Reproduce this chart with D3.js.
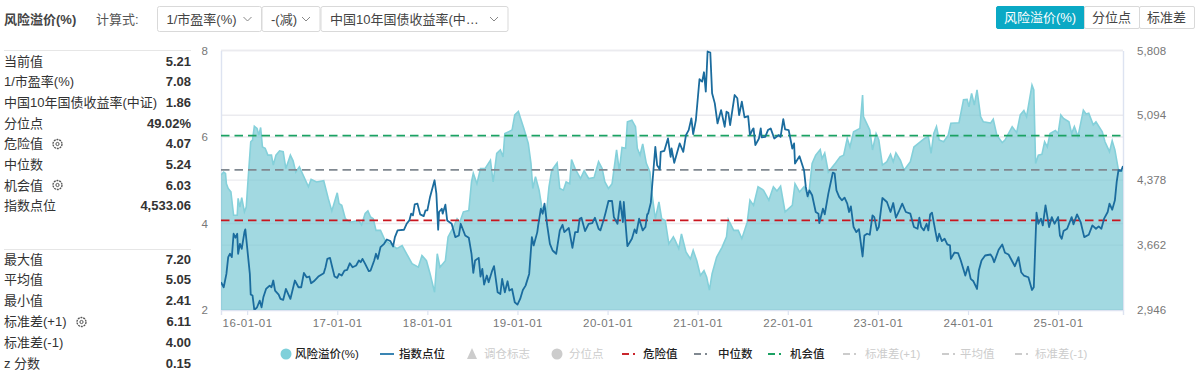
<!DOCTYPE html>
<html>
<head>
<meta charset="utf-8">
<script src="https://cdn.jsdelivr.net/npm/d3@7"></script>
<style>
  html, body { margin: 0; padding: 0; background: #fff; }
  svg { display: block; }
  text { font-family: "Liberation Sans", "Noto Sans CJK SC", sans-serif; }
</style>
</head>
<body>
<div id="chart"></div>
<script>
// Data (dates as decimal years)
const premiumDates = [2015.71,2015.74,2015.76,2015.77,2015.79,2015.82,2015.85,2015.89,2015.90,2015.92,2015.94,2015.97,2015.99,2016.01,2016.04,2016.06,2016.08,2016.11,2016.13,2016.15,2016.17,2016.20,2016.23,2016.27,2016.29,2016.32,2016.36,2016.40,2016.43,2016.48,2016.51,2016.54,2016.58,2016.63,2016.68,2016.71,2016.77,2016.85,2016.90,2016.94,2017.00,2017.02,2017.05,2017.09,2017.14,2017.24,2017.27,2017.31,2017.34,2017.37,2017.40,2017.43,2017.48,2017.53,2017.62,2017.66,2017.72,2017.77,2017.83,2017.90,2017.94,2017.99,2018.03,2018.08,2018.11,2018.14,2018.20,2018.23,2018.29,2018.33,2018.36,2018.40,2018.46,2018.49,2018.51,2018.55,2018.59,2018.64,2018.70,2018.73,2018.77,2018.81,2018.84,2018.86,2018.94,2018.97,2019.01,2019.07,2019.12,2019.15,2019.17,2019.20,2019.24,2019.27,2019.32,2019.35,2019.38,2019.44,2019.47,2019.51,2019.54,2019.58,2019.60,2019.64,2019.70,2019.74,2019.79,2019.85,2019.90,2019.94,2019.97,2020.01,2020.05,2020.10,2020.13,2020.16,2020.20,2020.22,2020.27,2020.31,2020.33,2020.36,2020.39,2020.43,2020.47,2020.49,2020.53,2020.57,2020.60,2020.64,2020.68,2020.73,2020.75,2020.79,2020.82,2020.87,2020.92,2020.95,2020.99,2021.03,2021.07,2021.10,2021.13,2021.16,2021.21,2021.27,2021.32,2021.34,2021.40,2021.45,2021.49,2021.55,2021.58,2021.62,2021.67,2021.73,2021.79,2021.84,2021.88,2021.92,2021.97,2022.05,2022.08,2022.13,2022.18,2022.23,2022.27,2022.31,2022.36,2022.38,2022.41,2022.45,2022.53,2022.58,2022.62,2022.66,2022.69,2022.73,2022.80,2022.83,2022.84,2022.91,2022.94,2022.98,2023.01,2023.05,2023.10,2023.14,2023.17,2023.20,2023.25,2023.29,2023.36,2023.40,2023.47,2023.52,2023.56,2023.59,2023.62,2023.65,2023.68,2023.73,2023.78,2023.81,2023.90,2023.95,2023.99,2024.01,2024.04,2024.07,2024.10,2024.14,2024.17,2024.25,2024.28,2024.32,2024.38,2024.41,2024.49,2024.54,2024.58,2024.62,2024.65,2024.71,2024.73,2024.75,2024.78,2024.82,2024.85,2024.88,2024.91,2024.97,2025.00,2025.03,2025.06,2025.12,2025.15,2025.18,2025.22,2025.28,2025.31,2025.34,2025.39,2025.42,2025.49,2025.52,2025.57,2025.60,2025.63,2025.67,2025.72];
const premiumValues = [5.12,5.19,5.16,4.92,4.81,4.73,4.19,4.19,4.58,4.38,4.60,4.27,4.38,5.00,5.89,5.93,6.25,6.20,6.04,6.22,5.77,5.74,5.58,5.58,5.35,5.58,5.68,5.66,5.27,5.58,5.45,5.19,5.31,5.08,4.85,5.02,4.96,4.99,4.58,4.29,4.71,4.46,4.42,4.11,4.03,4.07,3.97,4.23,4.29,4.15,4.11,3.84,3.84,3.61,3.49,3.42,3.49,3.30,3.07,2.99,3.26,3.14,2.84,2.41,3.30,2.99,3.14,3.69,3.92,4.11,4.03,4.27,4.30,4.96,5.16,4.92,5.27,5.27,5.46,4.96,5.62,5.70,5.54,6.08,6.16,6.51,6.59,6.20,5.85,5.39,4.81,5.08,4.77,4.38,4.23,4.85,5.23,5.40,4.81,4.77,4.96,4.92,5.48,5.27,5.04,5.22,5.04,5.06,5.43,5.27,4.96,4.81,4.92,5.70,5.22,5.76,5.74,6.35,6.39,6.24,5.74,5.58,5.84,5.39,5.19,4.73,4.11,4.50,4.11,4.07,3.53,3.69,3.61,3.42,3.76,3.34,3.18,3.38,3.14,2.80,2.91,2.76,2.46,2.84,3.22,3.45,3.69,4.09,3.84,3.84,3.65,4.03,4.54,4.42,4.85,4.77,4.54,4.85,4.75,4.86,4.27,4.42,4.92,4.73,4.85,4.61,5.39,5.58,5.71,5.50,5.63,5.19,5.40,5.54,5.58,5.97,5.77,6.12,6.20,6.97,6.47,6.16,5.70,6.08,5.93,5.35,5.43,5.60,5.43,5.63,5.46,5.23,5.43,5.77,5.89,5.97,6.01,5.62,6.08,6.24,5.93,5.89,6.04,6.32,6.33,6.86,6.87,6.70,7.01,6.74,7.09,6.47,6.35,6.32,6.41,6.04,5.87,5.93,6.24,6.10,6.51,6.61,6.47,7.20,7.09,5.39,5.58,5.60,5.89,5.77,6.08,6.15,6.08,6.51,6.43,6.35,6.08,6.24,6.01,6.62,6.53,6.55,6.28,6.35,6.12,5.89,5.66,5.91,5.70,5.23,5.21];
const indexDates = [2015.71,2015.74,2015.77,2015.79,2015.81,2015.83,2015.85,2015.87,2015.89,2015.90,2015.92,2015.94,2015.97,2015.98,2016.00,2016.03,2016.04,2016.06,2016.08,2016.11,2016.14,2016.16,2016.18,2016.21,2016.25,2016.27,2016.29,2016.31,2016.35,2016.37,2016.40,2016.43,2016.48,2016.53,2016.57,2016.60,2016.63,2016.66,2016.69,2016.71,2016.74,2016.79,2016.85,2016.87,2016.89,2016.92,2016.94,2016.97,2017.00,2017.02,2017.05,2017.08,2017.11,2017.14,2017.17,2017.21,2017.24,2017.26,2017.28,2017.31,2017.35,2017.37,2017.41,2017.43,2017.45,2017.48,2017.52,2017.55,2017.59,2017.62,2017.64,2017.67,2017.74,2017.77,2017.80,2017.82,2017.84,2017.86,2017.89,2017.92,2017.96,2017.98,2018.00,2018.03,2018.08,2018.10,2018.12,2018.13,2018.16,2018.17,2018.20,2018.22,2018.27,2018.31,2018.35,2018.37,2018.42,2018.46,2018.49,2018.51,2018.53,2018.57,2018.59,2018.61,2018.63,2018.66,2018.68,2018.72,2018.74,2018.78,2018.81,2018.83,2018.86,2018.89,2018.91,2018.94,2018.97,2019.00,2019.03,2019.06,2019.09,2019.13,2019.16,2019.18,2019.22,2019.23,2019.26,2019.28,2019.30,2019.33,2019.36,2019.39,2019.43,2019.47,2019.50,2019.52,2019.57,2019.61,2019.64,2019.67,2019.69,2019.71,2019.75,2019.79,2019.83,2019.86,2019.90,2019.92,2019.96,2019.98,2020.01,2020.05,2020.07,2020.11,2020.14,2020.17,2020.18,2020.22,2020.27,2020.30,2020.32,2020.35,2020.39,2020.42,2020.44,2020.45,2020.48,2020.50,2020.53,2020.55,2020.58,2020.59,2020.63,2020.67,2020.70,2020.71,2020.74,2020.80,2020.84,2020.87,2020.90,2020.93,2020.95,2020.98,2021.02,2021.05,2021.07,2021.09,2021.11,2021.14,2021.16,2021.19,2021.22,2021.26,2021.30,2021.32,2021.34,2021.36,2021.41,2021.44,2021.46,2021.49,2021.52,2021.56,2021.58,2021.61,2021.62,2021.64,2021.68,2021.70,2021.71,2021.75,2021.78,2021.81,2021.85,2021.90,2021.92,2021.95,2021.97,2022.01,2022.05,2022.07,2022.08,2022.13,2022.18,2022.20,2022.22,2022.24,2022.27,2022.31,2022.34,2022.35,2022.39,2022.41,2022.45,2022.50,2022.52,2022.54,2022.57,2022.60,2022.63,2022.66,2022.68,2022.70,2022.73,2022.76,2022.79,2022.83,2022.85,2022.88,2022.91,2022.94,2022.96,2022.99,2023.01,2023.05,2023.10,2023.14,2023.17,2023.20,2023.23,2023.27,2023.31,2023.36,2023.40,2023.44,2023.46,2023.48,2023.51,2023.54,2023.56,2023.58,2023.60,2023.64,2023.66,2023.68,2023.71,2023.74,2023.77,2023.80,2023.81,2023.85,2023.89,2023.92,2023.97,2024.00,2024.03,2024.06,2024.10,2024.12,2024.15,2024.19,2024.25,2024.27,2024.29,2024.34,2024.38,2024.41,2024.45,2024.52,2024.56,2024.59,2024.62,2024.67,2024.71,2024.73,2024.76,2024.78,2024.81,2024.83,2024.86,2024.90,2024.93,2024.96,2025.00,2025.02,2025.04,2025.06,2025.10,2025.15,2025.17,2025.21,2025.25,2025.29,2025.34,2025.38,2025.42,2025.45,2025.48,2025.51,2025.55,2025.57,2025.60,2025.63,2025.65,2025.67,2025.70,2025.72];
const indexValues = [3252,3197,3344,3529,3566,3529,3787,3743,3787,3566,3676,3621,3805,3835,3639,3344,3116,3105,2946,2976,3049,2976,3086,3178,3215,3197,3271,3160,3116,3068,3057,3178,3068,3271,3197,3197,3355,3307,3315,3241,3263,3315,3352,3418,3510,3521,3437,3315,3300,3344,3326,3381,3389,3462,3418,3437,3492,3473,3510,3455,3374,3381,3492,3566,3510,3639,3676,3724,3706,3647,3750,3824,3831,3897,3934,4008,3990,4111,4119,4001,3982,4045,4045,4193,4377,4229,3831,4027,4063,4008,4108,3934,3897,3750,3768,3897,3768,3743,3566,3355,3492,3521,3315,3400,3226,3326,3252,3381,3429,3141,3123,3289,3141,3263,3160,3178,3031,3005,3068,3167,3215,3344,3750,3658,3805,3879,4063,4008,4119,3879,3676,3602,3566,3824,3886,3805,3850,3632,3805,3805,3953,3964,3816,3897,3905,3964,3842,3824,3953,4027,4148,4148,3971,3897,4145,3916,4137,3650,3732,3835,3794,3953,3824,3861,4001,4008,4130,4377,4746,4543,4495,4690,4701,4838,4635,4727,4569,4783,4690,4875,4930,5059,4886,5041,5491,5465,5568,5354,5797,5786,5336,5225,5004,5151,4967,5133,5122,4985,5317,5281,5096,5244,5070,5085,4875,4938,4949,4764,4838,4949,4849,4856,4930,4949,4838,4875,4856,5052,4938,4930,4727,4783,4561,4642,4488,4303,4200,4266,4211,4027,4008,3905,4063,4001,4229,4462,4451,4266,4193,4156,4185,4119,4027,4089,3861,3805,3838,3536,3768,3787,3776,3990,3971,3824,3861,4181,4137,4027,4126,3964,4027,4119,4027,4008,3861,3842,3964,3861,3824,3897,3824,4001,4019,3805,3706,3787,3706,3732,3669,3658,3510,3580,3573,3492,3326,3425,3289,3263,3178,3381,3492,3547,3558,3529,3473,3610,3669,3577,3558,3429,3529,3363,3326,3307,3167,3197,4019,3897,3953,3879,4100,3861,3971,3897,3971,3768,3732,3816,3842,3971,3890,4001,3916,3750,3776,3879,3842,3868,3842,3953,4027,4119,4052,4156,4359,4488,4480,4533];

const dangerValue = 4.07;
const medianValue = 5.24;
const chanceValue = 6.03;

const leftTicks = [2, 4, 6, 8];
const rightTicks = [2946, 3662, 4378, 5094, 5808];
const xTicks = [2016, 2017, 2018, 2019, 2020, 2021, 2022, 2023, 2024, 2025];

const statsTop = [["当前值", "5.21"], ["1/市盈率(%)", "7.08"], ["中国10年国债收益率(中证)", "1.86"], ["分位点", "49.02%"], ["危险值", "4.07"], ["中位数", "5.24"], ["机会值", "6.03"], ["指数点位", "4,533.06"]];
const statsBottom = [["最大值", "7.20"], ["平均值", "5.05"], ["最小值", "2.41"], ["标准差(+1)", "6.11"], ["标准差(-1)", "4.00"], ["z 分数", "0.15"]];

// Set Dimensions
const width = 1200, height = 370;
const margin = { top: 50.5, right: 77, bottom: 60, left: 221 };
const plotW = width - margin.left - margin.right;
const plotH = height - margin.top - margin.bottom;

const svg = d3.select("#chart").append("svg")
  .attr("width", width).attr("height", height);

const x = d3.scaleLinear().domain([2015.71, 2025.72]).range([margin.left, width - margin.right]);
const y = d3.scaleLinear().domain([2, 8]).range([height - margin.bottom, margin.top]);
const yIndex = d3.scaleLinear().domain([2946, 5808]).range([height - margin.bottom, margin.top]);

// Grid
const grid = svg.append("g").attr("stroke", "#ebebef").attr("stroke-width", 1.4);
leftTicks.forEach(t => grid.append("line").attr("x1", margin.left).attr("x2", margin.left + plotW).attr("y1", y(t)).attr("y2", y(t)));
rightTicks.forEach(t => grid.append("line").attr("x1", margin.left).attr("x2", margin.left + plotW).attr("y1", yIndex(t)).attr("y2", yIndex(t)));

// Axes
const xAxis = svg.append("g")
  .attr("transform", "translate(0," + (height - margin.bottom) + ")")
  .call(d3.axisBottom(x).tickValues(xTicks).tickSize(5).tickPadding(4)
    .tickFormat(d => String(d).slice(2) + "-01-01"));
const leftAxis = svg.append("g")
  .attr("transform", "translate(" + margin.left + ",0)")
  .call(d3.axisLeft(y).tickValues(leftTicks).tickSize(0).tickPadding(13).tickFormat(d3.format("d")));
const rightAxis = svg.append("g")
  .attr("transform", "translate(" + (width - margin.right) + ",0)")
  .call(d3.axisRight(yIndex).tickValues(rightTicks).tickSize(0).tickPadding(14).tickFormat(d3.format(",")));
[xAxis, leftAxis, rightAxis].forEach(a => {
  a.selectAll(".domain").attr("stroke", "#dde3f1").attr("stroke-width", 1.4);
  a.selectAll(".tick line").attr("stroke", "#dde3f1").attr("stroke-width", 1.2);
  a.selectAll("text").attr("fill", "#777").attr("font-size", 11.5)
    .style("font-family", '"Liberation Sans", sans-serif');
});
xAxis.selectAll("text").attr("letter-spacing", 0.5);
rightAxis.selectAll("text").attr("letter-spacing", 0.1);

// Clip
svg.append("clipPath").attr("id", "plotClip").append("rect")
  .attr("x", margin.left).attr("y", margin.top - 1).attr("width", plotW).attr("height", plotH + 1);
const plot = svg.append("g").attr("clip-path", "url(#plotClip)");

// Premium area + line
const premium = premiumDates.map((d, i) => [d, premiumValues[i]]);
plot.append("path").datum(premium)
  .attr("fill", "rgba(109,196,208,0.64)")
  .attr("d", d3.area().x(d => x(d[0])).y0(y(2)).y1(d => y(d[1])));
plot.append("path").datum(premium)
  .attr("fill", "none").attr("stroke", "#84d0da").attr("stroke-width", 1.6)
  .attr("d", d3.line().x(d => x(d[0])).y(d => y(d[1])));

// Reference lines
const refLines = [[dangerValue, "#c9151e"], [medianValue, "#808890"], [chanceValue, "#1ba263"]];
refLines.forEach(r => {
  plot.append("line")
    .attr("x1", margin.left).attr("x2", margin.left + plotW)
    .attr("y1", y(r[0])).attr("y2", y(r[0]))
    .attr("stroke", r[1]).attr("stroke-width", 1.8).attr("stroke-dasharray", "8.5,5");
});

// Index line
const indexPts = indexDates.map((d, i) => [d, indexValues[i]]);
plot.append("path").datum(indexPts)
  .attr("fill", "none").attr("stroke", "#1b6c9e").attr("stroke-width", 1.8)
  .attr("stroke-linejoin", "round")
  .attr("d", d3.line().x(d => x(d[0])).y(d => yIndex(d[1])));

// Left panel
const panel = svg.append("g");
function statRows(rows, startY, step) {
  rows.forEach((r, i) => {
    const yy = startY + i * step;
    panel.append("text").attr("x", 4).attr("y", yy + 4.5).attr("font-size", 13).attr("fill", "#333").text(r[0]);
    panel.append("text").attr("x", 191).attr("y", yy + 4.5).attr("font-size", 13).attr("font-weight", "bold")
      .attr("text-anchor", "end").attr("fill", "#333").text(r[1]);
  });
}
statRows(statsTop, 61, 20.7);
statRows(statsBottom, 259, 20.8);
panel.append("line").attr("x1", 4).attr("x2", 191).attr("y1", 50.5).attr("y2", 50.5).attr("stroke", "#e6e6e6");
panel.append("line").attr("x1", 4).attr("x2", 191).attr("y1", 249.5).attr("y2", 249.5).attr("stroke", "#e6e6e6");

function gear(cx, cy) {
  panel.append("circle").attr("cx", cx).attr("cy", cy).attr("r", 4.5).attr("fill", "none")
    .attr("stroke", "#555").attr("stroke-width", 1.3).attr("stroke-dasharray", "2,0.8");
  panel.append("circle").attr("cx", cx).attr("cy", cy).attr("r", 1.6).attr("fill", "none")
    .attr("stroke", "#555").attr("stroke-width", 1);
}
gear(57.5, 144); gear(57.5, 185); gear(81.5, 322);

// Header
const head = svg.append("g");
head.append("text").attr("x", 4).attr("y", 24).attr("font-size", 13).attr("font-weight", "bold").attr("fill", "#444").text("风险溢价(%)");
head.append("text").attr("x", 96).attr("y", 24).attr("font-size", 13).attr("fill", "#555").text("计算式:");

const selects = [[157.5, 104, "1/市盈率(%)"], [262, 58, "-(减)"], [321, 187, "中国10年国债收益率(中…"]];
selects.forEach(s => {
  head.append("rect").attr("x", s[0]).attr("y", 6.5).attr("width", s[1]).attr("height", 25).attr("rx", 2)
    .attr("fill", "#fff").attr("stroke", "#d9d9d9");
  head.append("text").attr("x", s[0] + 9).attr("y", 24).attr("font-size", 13).attr("fill", "#444").text(s[2]);
  const cx = s[0] + s[1] - 14;
  head.append("path").attr("d", "M" + (cx - 4) + ",17 L" + cx + ",21 L" + (cx + 4) + ",17")
    .attr("fill", "none").attr("stroke", "#888");
});

const buttons = [[996, 88, "风险溢价(%)", true], [1084, 55, "分位点", false], [1139, 55, "标准差", false]];
buttons.forEach(b => {
  head.append("rect").attr("x", b[0] + 0.5).attr("y", 6.5).attr("width", b[1]).attr("height", 22).attr("rx", 1.5)
    .attr("fill", b[3] ? "#0aa9c5" : "#fff").attr("stroke", b[3] ? "#0aa9c5" : "#d9d9d9");
  head.append("text").attr("x", b[0] + b[1] / 2).attr("y", 22).attr("text-anchor", "middle")
    .attr("font-size", 13).attr("fill", b[3] ? "#fff" : "#444").text(b[2]);
});

// Legend
const legendItems = [
  ["风险溢价(%)", "circle", "#7fd0da", 286, 295, true],
  ["指数点位", "line", "#3a85b3", 380, 399, true],
  ["调仓标志", "tri", "#ccc", 472, 484, false],
  ["分位点", "circle", "#ccc", 557, 569, false],
  ["危险值", "dash", "#c9252c", 622, 643, true],
  ["中位数", "dash", "#808890", 694, 718, true],
  ["机会值", "dash", "#1ba263", 768, 790, true],
  ["标准差(+1)", "dash", "#ccc", 843, 865, false],
  ["平均值", "dash", "#ccc", 942, 960, false],
  ["标准差(-1)", "dash", "#ccc", 1015, 1035, false]
];
const legend = svg.append("g");
const legY = 354;
legendItems.forEach(d => {
  if (d[1] === "circle") legend.append("circle").attr("cx", d[3]).attr("cy", legY).attr("r", 5.5).attr("fill", d[2]);
  if (d[1] === "line") legend.append("line").attr("x1", d[3]).attr("x2", d[3] + 14).attr("y1", legY).attr("y2", legY).attr("stroke", d[2]).attr("stroke-width", 2);
  if (d[1] === "tri") legend.append("path").attr("d", "M" + d[3] + "," + (legY - 6) + " l5,11 h-10 z").attr("fill", d[2]);
  if (d[1] === "dash") legend.append("line").attr("x1", d[3]).attr("x2", d[3] + 15).attr("y1", legY).attr("y2", legY).attr("stroke", d[2]).attr("stroke-width", 2).attr("stroke-dasharray", "7,4,2,4");
  legend.append("text").attr("x", d[4]).attr("y", legY + 4).attr("font-size", 11.5).attr("font-weight", d[5] ? 500 : 400)
    .attr("fill", d[5] ? "#222" : "#ccc").text(d[0]);
});
</script>
</body>
</html>
